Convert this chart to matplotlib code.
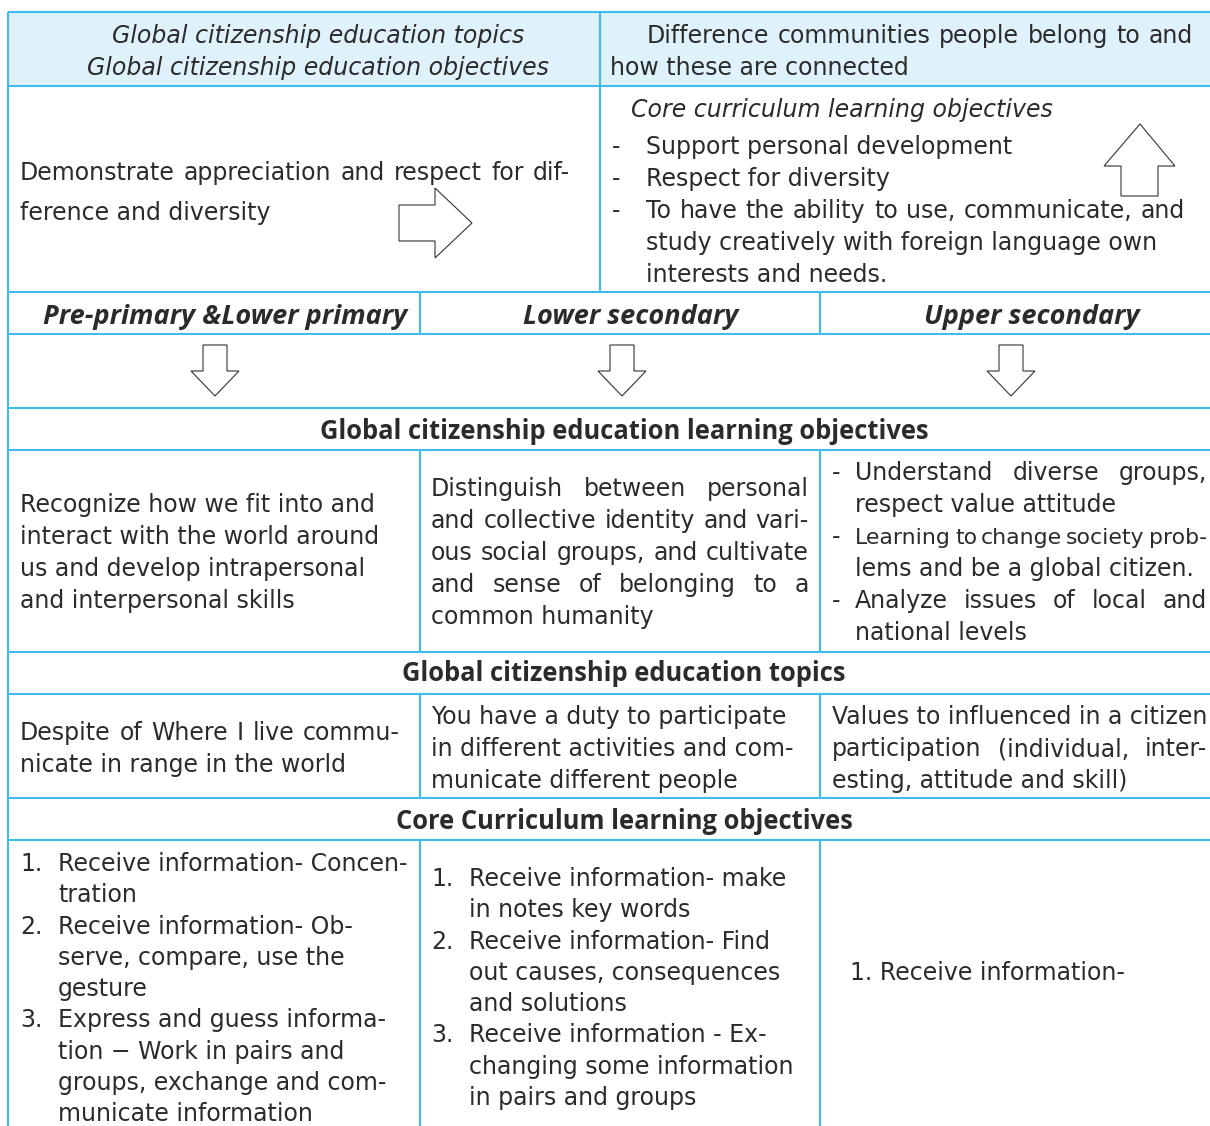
import matplotlib
matplotlib.use("Agg")
import matplotlib.pyplot as plt
from matplotlib.patches import Polygon, Rectangle

FONT = ["DejaVu Sans"]
BFONT = ["Open Sans", "DejaVu Sans"]
TXT = "#2b2b2b"
LINE = "#40bcec"
FILL = "#dff2fb"

# ---- table content ----
header_left = ["Global citizenship education topics",
               "Global citizenship education objectives"]
header_right = ["Difference communities people belong to and",
                "how these are connected"]
row2_left = ["Demonstrate appreciation and respect for dif-",
             "ference and diversity"]
row2_right_title = "Core curriculum learning objectives"
row2_right_items = [["Support personal development"],
                    ["Respect for diversity"],
                    ["To have the ability to use, communicate, and",
                     "study creatively with foreign language own",
                     "interests and needs."]]
levels = ["Pre-primary &Lower primary", "Lower secondary", "Upper secondary"]
section_titles = ["Global citizenship education learning objectives",
                  "Global citizenship education topics",
                  "Core Curriculum learning objectives"]
gce_objectives = [
    ["Recognize how we fit into and", "interact with the world around",
     "us and develop intrapersonal", "and interpersonal skills"],
    ["Distinguish between personal", "and collective identity and vari-",
     "ous social groups, and cultivate", "and sense of belonging to a",
     "common humanity"],
    [["Understand diverse groups,", "respect value attitude"],
     ["Learning to change society prob-", "lems and be a global citizen."],
     ["Analyze issues of local and", "national levels"]],
]
gce_topics = [
    ["Despite of Where I live commu-", "nicate in range in the world"],
    ["You have a duty to participate", "in different activities and com-",
     "municate different people"],
    ["Values to influenced in a citizen", "participation (individual, inter-",
     "esting, attitude and skill)"],
]
core_objectives = [
    [["Receive information- Concen-", "tration"],
     ["Receive information- Ob-", "serve, compare, use the", "gesture"],
     ["Express and guess informa-", "tion \u2212 Work in pairs and",
      "groups, exchange and com-", "municate information"]],
    [["Receive information- make", "in notes key words"],
     ["Receive information- Find", "out causes, consequences", "and solutions"],
     ["Receive information - Ex-", "changing some information",
      "in pairs and groups"]],
    [["Receive information-"]],
]

W, H = 1210, 1126
fig = plt.figure(figsize=(W / 100, H / 100), dpi=100)
ax = fig.add_axes([0, 0, 1, 1])
ax.set_xlim(0, W)
ax.set_ylim(H, 0)
ax.axis("off")
fig.canvas.draw()
renderer = fig.canvas.get_renderer()

FS = 17.0
BASE = 9  # baseline offset below visual centre
MIN_GAP = 4


def txt(x, y, s, ha="left", size=FS, family=None, **kw):
    return ax.text(x, y + BASE, s, ha=ha, va="baseline", fontsize=size,
                   color=TXT, family=family or FONT, **kw)


def justify(x0, x1, y, s, size=FS, **kw):
    words = s.split(" ")
    arts = [txt(0, y, w, size=size, **kw) for w in words]
    widths = [a.get_window_extent(renderer).width for a in arts]
    n_gaps = max(len(words) - 1, 1)
    avail = x1 - x0
    if sum(widths) + n_gaps * MIN_GAP > avail:
        scale = (avail - n_gaps * MIN_GAP) / sum(widths)
        for a in arts:
            a.set_fontsize(size * scale)
        widths = [w * scale for w in widths]
    gap = (avail - sum(widths)) / n_gaps
    x = x0
    for a, w in zip(arts, widths):
        a.set_x(x)
        x += w + gap


def hline(y, x0=8, x1=W):
    ax.plot([x0, x1], [y, y], color=LINE, lw=1.5, solid_capstyle="butt")


def vline(x, y0, y1):
    ax.plot([x, x], [y0, y1], color=LINE, lw=1.5, solid_capstyle="butt")


# header fill
ax.add_patch(Rectangle((8, 12), W - 8, 74, facecolor=FILL, edgecolor="none"))

for y in [12, 86, 292, 334, 408, 450, 652, 694, 798, 840]:
    hline(y)
vline(8, 12, H)
vline(600, 12, 292)
for y0, y1 in [(292, 334), (450, 652), (694, 798), (840, H)]:
    vline(420, y0, y1)
    vline(820, y0, y1)

# row 1
txt(318, 34, header_left[0], ha="center", style="italic")
txt(318, 66, header_left[1], ha="center", style="italic")
justify(647, 1193, 34, header_right[0])
txt(610, 66, header_right[1])

# row 2
justify(20, 570, 171, row2_left[0])
txt(20, 211, row2_left[1])
txt(631, 108, row2_right_title, style="italic")
y = 145
for item in row2_right_items:
    txt(612, y, "-")
    for k, line in enumerate(item):
        if k == 0 and len(item) > 1:
            justify(646, 1185, y, line)
        else:
            txt(646, y, line)
        y += 32


# arrows
def poly(pts):
    ax.add_patch(Polygon(pts, closed=True, facecolor="white",
                         edgecolor="#333333", lw=0.8))


poly([(399, 205), (435, 205), (435, 188), (472, 223), (435, 258),
      (435, 241), (399, 241)])
poly([(1121, 196), (1121, 166), (1104, 166), (1140, 124), (1175, 166),
      (1158, 166), (1158, 196)])

# row 3 levels
for cx, lab in zip([225, 631, 1032], levels):
    txt(cx, 315, lab, ha="center", weight="bold", style="italic",
        size=19.5, family=BFONT)

# down arrows
for cx in [215, 622, 1011]:
    poly([(cx - 12, 345), (cx + 12, 345), (cx + 12, 371), (cx + 24, 371),
          (cx, 396), (cx - 24, 371), (cx - 12, 371)])

# section titles
for yy, s in zip([430, 672, 820], section_titles):
    txt(624, yy, s, ha="center", weight="bold", size=18.4, family=BFONT)

# row 6
for k, line in enumerate(gce_objectives[0]):
    txt(20, 503 + 32 * k, line)
for k, line in enumerate(gce_objectives[1]):
    if k < 4:
        justify(431, 809, 487 + 32 * k, line)
    else:
        txt(431, 487 + 32 * k, line)
y = 471
for item in gce_objectives[2]:
    txt(832, y, "-")
    for k, line in enumerate(item):
        if k == 0:
            justify(855, 1207, y, line)
        else:
            txt(855, y, line)
        y += 32

# row 8
for k, line in enumerate(gce_topics[0]):
    if k == 0:
        justify(20, 400, 731, line)
    else:
        txt(20, 731 + 32 * k, line)
for k, line in enumerate(gce_topics[1]):
    txt(431, 715 + 32 * k, line)
for k, line in enumerate(gce_topics[2]):
    if k == 1:
        justify(832, 1207, 715 + 32 * k, line)
    else:
        txt(832, 715 + 32 * k, line)


# row 10
def numbered(x_num, x_txt, y0, items, step=31.3):
    y = y0
    for n, item in enumerate(items, 1):
        txt(x_num, y, f"{n}.")
        for line in item:
            txt(x_txt, y, line)
            y += step


numbered(20, 58, 862, core_objectives[0])
numbered(431, 469, 877, core_objectives[1])
txt(850, 971, "1. " + core_objectives[2][0][0])

fig.savefig("out.png", dpi=100)
